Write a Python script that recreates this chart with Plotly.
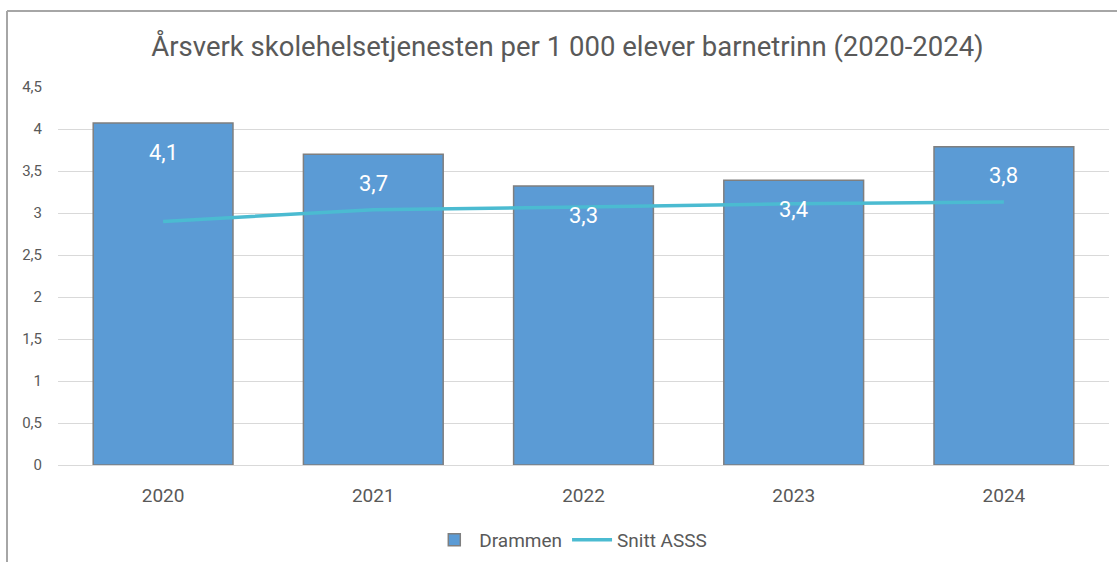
import plotly.graph_objects as go

years = ["2020", "2021", "2022", "2023", "2024"]
drammen = [4.07, 3.70, 3.32, 3.39, 3.79]
drammen_labels = ["4,1", "3,7", "3,3", "3,4", "3,8"]
snitt_asss = [2.90, 3.04, 3.07, 3.11, 3.13]
y_ticks = [0, 0.5, 1, 1.5, 2, 2.5, 3, 3.5, 4, 4.5]

FONT = "Roboto, Open Sans, sans-serif"
GREY = "#595959"

fig = go.Figure()
fig.add_trace(go.Bar(
    x=years, y=drammen, name="Drammen",
    marker=dict(color="#5B9BD5", line=dict(color="#7F7F7F", width=1.5)),
))
fig.add_trace(go.Scatter(
    x=years, y=snitt_asss, name="Snitt ASSS", mode="lines",
    line=dict(color="#4BBBD1", width=3.5),
))

for i, (v, lab) in enumerate(zip(drammen, drammen_labels)):
    fig.add_annotation(x=i, y=v, text=lab, showarrow=False, yshift=-29,
                       yanchor="middle", xanchor="center",
                       font=dict(family=FONT, size=22, color="white"))

W, H = 1117, 562
L, R, T, B = 58, 8, 87, 97
pw, ph = W - L - R, H - T - B

def px(x):
    return (x - L) / pw

def py(y):
    return (H - B - y) / ph

fig.update_layout(
    width=W, height=H,
    margin=dict(l=L, r=R, t=T, b=B),
    paper_bgcolor="white", plot_bgcolor="white",
    separators=", ",
    bargap=0.335,
    title=dict(text="Årsverk skolehelsetjenesten per 1 000 elever barnetrinn (2020-2024)",
               x=567.5 / W, xref="container", xanchor="center", y=1 - 46 / H, yanchor="middle",
               font=dict(family=FONT, size=27.5, color=GREY)),
    xaxis=dict(type="category", range=[-0.5, len(years) - 0.5],
               showgrid=False, showline=False, ticks="", ticklabelstandoff=17,
               tickfont=dict(family=FONT, size=19, color=GREY)),
    yaxis=dict(range=[0, 4.5], tickvals=y_ticks, tickformat=",.1~f",
               showgrid=True, gridcolor="#D9D9D9", gridwidth=1,
               zeroline=True, zerolinecolor="#D9D9D9", zerolinewidth=1,
               showline=False, ticks="", ticklabelstandoff=15,
               tickfont=dict(family=FONT, size=15, color=GREY)),
    legend=dict(orientation="h", x=0.511, xanchor="center", xref="container",
                y=1 - 540 / H, yanchor="middle", yref="container",
                font=dict(family=FONT, size=19, color=GREY),
                itemwidth=40, tracegroupgap=0),
    showlegend=True,
)

fig.add_shape(type="line", xref="paper", yref="paper",
              x0=px(7), x1=px(1117), y0=py(11), y1=py(11),
              line=dict(color="#A6A6A6", width=2))
fig.add_shape(type="line", xref="paper", yref="paper",
              x0=px(7), x1=px(7), y0=py(11), y1=py(562),
              line=dict(color="#A6A6A6", width=2))

fig.write_html("out.html", config={"displayModeBar": False},
               post_script="document.body.style.margin='0px';")
